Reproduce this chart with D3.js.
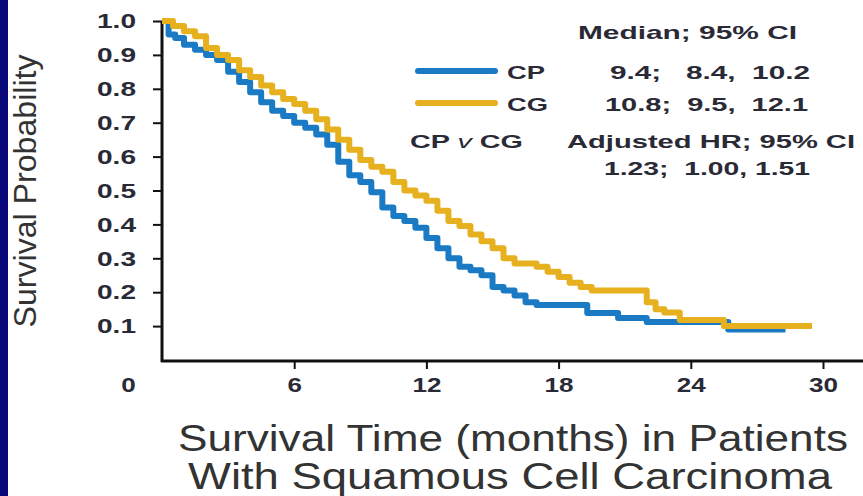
<!DOCTYPE html>
<html>
<head>
<meta charset="utf-8">
<script src="https://cdn.jsdelivr.net/npm/d3@7"></script>
<style>
body { margin: 0; background: #fff; }
svg { display: block; }
</style>
</head>
<body>
<div id="chart"></div>
<script>
// Kaplan-Meier steps: months, survival probability
var cpTime = [0, 0.3, 0.6, 1.0, 1.5, 2.0, 2.5, 3.0, 3.5, 4.0, 4.5, 5.0, 5.5, 6.0, 6.5, 7.0, 7.5, 8.0, 8.5, 9.0, 9.5, 10.0, 10.5, 11.0, 11.5, 12.0, 12.5, 13.0, 13.5, 14.0, 14.5, 15.0, 15.5, 16.0, 16.5, 17.0, 19.3, 20.7, 22.0, 25.7, 28.3];
var cpSurv = [1.0, 0.96, 0.95, 0.93, 0.915, 0.90, 0.885, 0.85, 0.82, 0.79, 0.76, 0.735, 0.72, 0.70, 0.685, 0.665, 0.635, 0.585, 0.545, 0.525, 0.495, 0.45, 0.425, 0.41, 0.39, 0.36, 0.33, 0.30, 0.275, 0.265, 0.25, 0.215, 0.205, 0.19, 0.17, 0.162, 0.139, 0.124, 0.112, 0.09, 0.09];
var cgTime = [0, 0.5, 1.0, 1.5, 2.0, 2.5, 3.0, 3.5, 4.0, 4.5, 5.0, 5.5, 6.0, 6.5, 7.0, 7.5, 8.0, 8.5, 9.0, 9.5, 10.0, 10.5, 11.0, 11.5, 12.0, 12.5, 13.0, 13.5, 14.0, 14.5, 15.0, 15.5, 16.0, 17.0, 17.5, 18.0, 18.5, 19.0, 19.5, 22.0, 22.4, 22.8, 23.5, 25.5, 29.5];
var cgSurv = [1.0, 0.985, 0.97, 0.955, 0.92, 0.90, 0.885, 0.855, 0.835, 0.81, 0.79, 0.77, 0.755, 0.735, 0.71, 0.68, 0.65, 0.62, 0.59, 0.57, 0.555, 0.525, 0.50, 0.485, 0.47, 0.44, 0.41, 0.395, 0.37, 0.35, 0.33, 0.30, 0.285, 0.275, 0.26, 0.245, 0.228, 0.215, 0.205, 0.17, 0.15, 0.14, 0.118, 0.10, 0.10];

var xTicks = [0, 6, 12, 18, 24, 30];
var yTicks = [0.1, 0.2, 0.3, 0.4, 0.5, 0.6, 0.7, 0.8, 0.9, 1.0];

var groups = ["CP", "CG"];
var medians = ["9.4;   8.4,  10.2", "10.8;  9.5,  12.1"];
var hrText = "1.23;  1.00, 1.51";

var width = 863, height = 496;
var blue = "#1a7bc4", gold = "#e6b01e", ink = "#2a2a36";
var font = "Liberation Sans, Arial, sans-serif";

var svg = d3.select("#chart")
    .append("svg")
    .attr("width", width)
    .attr("height", height);

// navy strip on the left edge
svg.append("rect")
    .attr("x", 0).attr("y", 0)
    .attr("width", 8).attr("height", height)
    .attr("fill", "#07077a");

var x = d3.scaleLinear().domain([0, 30]).range([162, 823]);
var y = d3.scaleLinear().domain([0, 1]).range([360, 21]);

// wide tick digits as in the original
function tickWidth(s) {
  return s.replace(/\./g, "").length * 14.5 + (s.indexOf(".") >= 0 ? 10 : 0);
}

// y axis
var yAxis = svg.append("g")
    .attr("transform", "translate(162,0)")
    .call(d3.axisLeft(y).tickValues(yTicks).tickSize(9).tickSizeOuter(0).tickPadding(17).tickFormat(d3.format(".1f")));
yAxis.select(".domain").remove();
yAxis.selectAll(".tick line").attr("stroke", "#111").attr("stroke-width", 2);
yAxis.selectAll(".tick text")
    .style("font-family", font)
    .style("font-size", "21px")
    .style("font-weight", "bold")
    .attr("textLength", function(d) { return tickWidth(d3.format(".1f")(d)); })
    .attr("lengthAdjust", "spacingAndGlyphs")
    .attr("fill", ink);

// x axis
var xAxis = svg.append("g")
    .attr("transform", "translate(0,361)")
    .call(d3.axisBottom(x).tickValues(xTicks).tickSize(8).tickSizeOuter(0));
xAxis.select(".domain").remove();
xAxis.selectAll(".tick line").attr("stroke", "#111").attr("stroke-width", 2)
    .attr("display", function(d) { return d === 0 ? "none" : null; });
xAxis.selectAll(".tick text")
    .attr("y", 31).attr("dy", 0)
    .attr("x", function(d) { return d === 0 ? -34 : 0; })
    .style("font-family", font)
    .style("font-size", "21px")
    .style("font-weight", "bold")
    .attr("textLength", function(d) { return tickWidth(String(d)); })
    .attr("lengthAdjust", "spacingAndGlyphs")
    .attr("fill", ink);

// axis frame lines
svg.append("line")
    .attr("x1", x(0)).attr("x2", x(0))
    .attr("y1", y(1) + 1).attr("y2", 362)
    .attr("stroke", "#111").attr("stroke-width", 3);
svg.append("line")
    .attr("x1", x(0) - 1).attr("x2", width)
    .attr("y1", 361).attr("y2", 361)
    .attr("stroke", "#111").attr("stroke-width", 3);

// curves
var line = d3.line()
    .x(function(d) { return x(d[0]); })
    .y(function(d) { return y(d[1]); })
    .curve(d3.curveStepAfter);

var cpData = d3.zip(cpTime, cpSurv);
var cgData = d3.zip(cgTime, cgSurv);

svg.append("path")
    .datum(cpData)
    .attr("d", line)
    .attr("fill", "none")
    .attr("stroke", blue)
    .attr("stroke-width", 6)
    .attr("stroke-linejoin", "round");
svg.append("path")
    .datum(cgData)
    .attr("d", line)
    .attr("fill", "none")
    .attr("stroke", gold)
    .attr("stroke-width", 6)
    .attr("stroke-linejoin", "round");

// legend
function label(txt, xx, yy, len, size, weight) {
  return svg.append("text")
      .attr("x", xx).attr("y", yy)
      .attr("textLength", len)
      .attr("lengthAdjust", "spacingAndGlyphs")
      .attr("xml:space", "preserve")
      .style("white-space", "pre")
      .style("font-family", font)
      .style("font-size", size + "px")
      .style("font-weight", weight || "bold")
      .attr("fill", ink)
      .text(txt);
}

label("Median; 95% CI", 578, 39, 219, 19);
var colours = [blue, gold];
var rowY = [79, 111];
groups.forEach(function(g, i) {
  svg.append("line")
      .attr("x1", 418).attr("x2", 495)
      .attr("y1", rowY[i] - 8).attr("y2", rowY[i] - 8)
      .attr("stroke", colours[i])
      .attr("stroke-width", 6)
      .attr("stroke-linecap", "round");
  label(g, 507, rowY[i], i === 0 ? 38 : 41, 19);
  label(medians[i], i === 0 ? 610 : 605, rowY[i], i === 0 ? 200 : 203, 19);
});

var vs = svg.append("text")
    .attr("x", 410).attr("y", 148)
    .attr("textLength", 113)
    .attr("lengthAdjust", "spacingAndGlyphs")
    .style("font-family", font)
    .style("font-size", "19px")
    .style("font-weight", "bold")
    .attr("fill", ink);
vs.append("tspan").text("CP ");
vs.append("tspan").style("font-style", "italic").style("font-weight", "normal").text("v");
vs.append("tspan").text(" CG");

label("Adjusted HR; 95% CI", 567, 148, 288, 19);
label(hrText, 604, 175, 206, 19);

// axis titles
svg.append("text")
    .attr("transform", "translate(36,191) rotate(-90)")
    .attr("text-anchor", "middle")
    .attr("textLength", 273)
    .attr("lengthAdjust", "spacingAndGlyphs")
    .style("font-family", font)
    .style("font-size", "32px")
    .attr("fill", "#333")
    .text("Survival Probability");

svg.append("text")
    .attr("x", 178).attr("y", 451)
    .attr("textLength", 670)
    .attr("lengthAdjust", "spacingAndGlyphs")
    .style("font-family", font)
    .style("font-size", "36px")
    .attr("fill", "#333")
    .text("Survival Time (months) in Patients");
svg.append("text")
    .attr("x", 188).attr("y", 489)
    .attr("textLength", 644)
    .attr("lengthAdjust", "spacingAndGlyphs")
    .style("font-family", font)
    .style("font-size", "36px")
    .attr("fill", "#333")
    .text("With Squamous Cell Carcinoma");
</script>
</body>
</html>
